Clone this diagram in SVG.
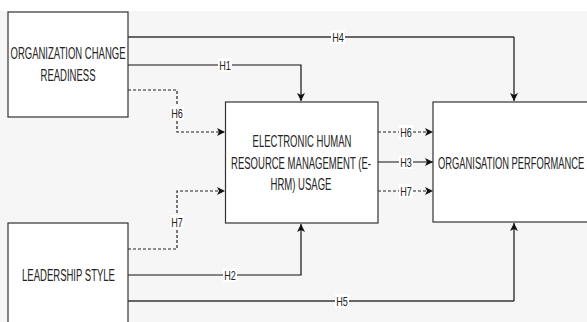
<svg xmlns="http://www.w3.org/2000/svg" width="587" height="322" viewBox="0 0 587 322">
<style>
.box{fill:#ffffff;stroke:#333333;stroke-width:1.2}
.t{font-family:"Liberation Sans",Arial,sans-serif;font-size:16px;fill:#222222;text-anchor:middle}
.l{font-family:"Liberation Sans",Arial,sans-serif;font-size:13px;fill:#222222;text-anchor:middle}
.lb{fill:#ffffff}
.c{fill:none;stroke:#111111;stroke-width:1.2}
.g{fill:none;stroke:#666666;stroke-width:1.8}
.d{fill:none;stroke:#222222;stroke-width:1.2;stroke-dasharray:3 2}
</style>
<defs>
<marker id="a" markerWidth="9" markerHeight="8" refX="8" refY="4" orient="auto" markerUnits="userSpaceOnUse">
<path d="M0,0 L8,4 L0,8 L2,4 Z" fill="#111111"/>
</marker>
</defs>
<rect x="0" y="0" width="587" height="322" fill="#ffffff"/>
<rect x="0" y="11" width="587" height="311" fill="#f6f6f6"/>
<g id="connectors">
<path class="g" d="M128,37 H514"/>
<path class="c" d="M514,37 V101" marker-end="url(#a)"/>
<path class="c" d="M128,65 H301 V101" marker-end="url(#a)"/>
<path class="d" d="M128,90 H177 V132 H225" marker-end="url(#a)"/>
<path class="d" d="M128,249 H177 V191 H225" marker-end="url(#a)"/>
<path class="c" d="M128,275 H301 V224" marker-end="url(#a)"/>
<path class="g" d="M128,301 H514"/>
<path class="c" d="M514,301 V223" marker-end="url(#a)"/>
<path class="d" d="M378,132 H433" marker-end="url(#a)"/>
<path class="c" d="M378,162 H433" marker-end="url(#a)"/>
<path class="d" d="M378,191 H433" marker-end="url(#a)"/>
<g id="labels">
<rect class="lb" x="331" y="30" width="14" height="14"/><text class="l" transform="translate(338,42) scale(0.7,1)">H4</text>
<rect class="lb" x="218" y="58" width="14" height="14"/><text class="l" transform="translate(225,70) scale(0.7,1)">H1</text>
<rect class="lb" x="170" y="106" width="14" height="14"/><text class="l" transform="translate(177,118) scale(0.7,1)">H6</text>
<rect class="lb" x="170" y="215" width="14" height="14"/><text class="l" transform="translate(177,227) scale(0.7,1)">H7</text>
<rect class="lb" x="223" y="268" width="14" height="14"/><text class="l" transform="translate(230,280) scale(0.7,1)">H2</text>
<rect class="lb" x="335" y="294" width="14" height="14"/><text class="l" transform="translate(342,306) scale(0.7,1)">H5</text>
<rect class="lb" x="399" y="125" width="14" height="14"/><text class="l" transform="translate(406,137) scale(0.7,1)">H6</text>
<rect class="lb" x="399" y="155" width="14" height="14"/><text class="l" transform="translate(406,167) scale(0.7,1)">H3</text>
<rect class="lb" x="399" y="184" width="14" height="14"/><text class="l" transform="translate(406,196) scale(0.7,1)">H7</text>
</g>
</g>
<g id="ocr">
<rect class="box" x="8" y="12" width="120" height="105"/>
<text class="t" transform="translate(68,59) scale(0.595,1)">ORGANIZATION CHANGE</text>
<text class="t" transform="translate(68,81) scale(0.595,1)">READINESS</text>
</g>
<g id="ls">
<rect class="box" x="8" y="223" width="120" height="115"/>
<text class="t" transform="translate(68.5,281) scale(0.595,1)">LEADERSHIP STYLE</text>
</g>
<g id="ehrm">
<rect class="box" x="225.5" y="102" width="152.5" height="121"/>
<text class="t" transform="translate(302,147) scale(0.595,1)">ELECTRONIC HUMAN</text>
<text class="t" transform="translate(301,168.5) scale(0.595,1)">RESOURCE MANAGEMENT (E-</text>
<text class="t" transform="translate(301,190) scale(0.595,1)">HRM) USAGE</text>
</g>
<g id="op">
<rect class="box" x="433" y="102" width="170" height="120"/>
<text class="t" transform="translate(438,168.5) scale(0.585,1)" style="text-anchor:start">ORGANISATION PERFORMANCE</text>
</g>
</svg>
